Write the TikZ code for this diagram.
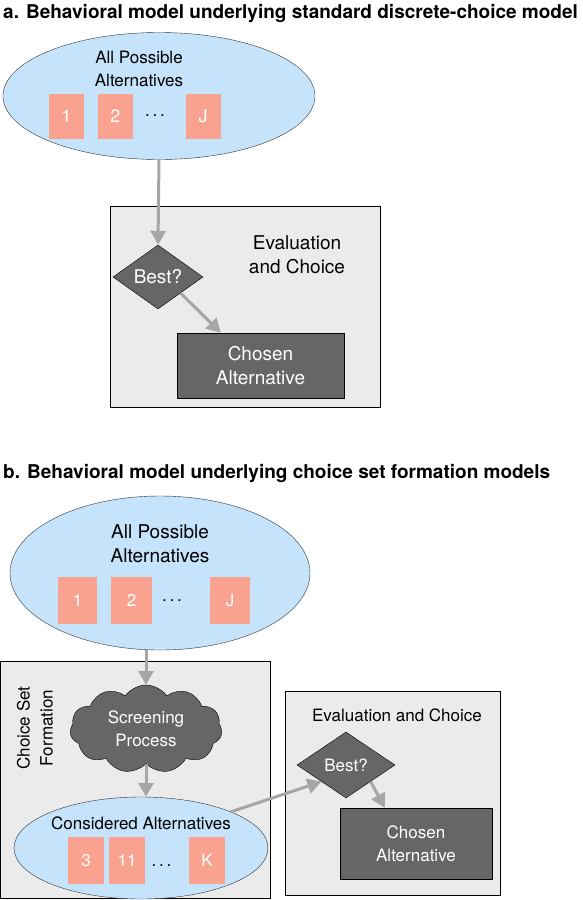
\documentclass[tikz,border=0pt]{standalone}
\usepackage{fontspec}
\setmainfont{TeX Gyre Heros}
\usetikzlibrary{arrows.meta, shapes.geometric, shapes.symbols}
\definecolor{poolblue}{HTML}{C5E3FB}
\definecolor{altsalmon}{HTML}{F9A28F}
\definecolor{panelgray}{HTML}{EBEBEB}
\definecolor{chosengray}{HTML}{666666}
\definecolor{flowgray}{HTML}{A6A6A6}
\tikzset{txt/.style={font=\fontsize{17}{23}\selectfont, align=center, inner sep=0pt}, bigtxt/.style={txt, font=\fontsize{19}{24}\selectfont}, heading/.style={font=\bfseries\fontsize{19}{22}\selectfont, anchor=west, inner sep=0pt}, pool/.style={ellipse, draw=black!80, fill=poolblue}, alt/.style={txt, fill=altsalmon, text=white}, panel/.style={draw, fill=panelgray}, decide/.style={diamond, draw, fill=chosengray, text=white, txt}, chosen/.style={rectangle, draw, fill=chosengray, text=white, txt}, screen/.style={cloud, cloud puffs=11, cloud puff arc=110, aspect=1.8, draw, fill=chosengray, text=white, txt}, flow/.style={-{Triangle[length=14pt,width=15pt]}, line width=3pt, draw=flowgray}}

\begin{document}
\begin{tikzpicture}[x=1pt, y=-1pt]
    \useasboundingbox (0,0) rectangle (583,900);
    % panel a
    \node[heading] (titleA) at (3,14) {a. Behavioral model underlying standard discrete-choice model};
    \node[pool, minimum width=312, minimum height=127] (poolA) at (159,96) {};
    \node[txt] (poolAtxt) at (139,69) {All Possible\\Alternatives};
    \node[alt, minimum width=35, minimum height=45, font=\fontsize{18}{23}\selectfont] (a1) at (66.5,116.5) {1};
    \node[alt, minimum width=35, minimum height=45, font=\fontsize{18}{23}\selectfont] (a2) at (115.5,116.5) {2};
    \node[txt] (dotsA) at (155,116) {.\,.\,.};
    \node[alt, minimum width=35, minimum height=45, font=\fontsize{18}{23}\selectfont] (aJ) at (203,116.5) {J};
    \node[panel, minimum width=270, minimum height=201] (evalA) at (245,306.5) {};
    \node[bigtxt] (evalAtxt) at (297,255) {Evaluation\\and Choice};
    \node[decide, bigtxt, minimum width=90, minimum height=64] (bestA) at (158,277) {Best?};
    \node[chosen, bigtxt, minimum width=167, minimum height=65] (choA) at (260.5,365.5) {Chosen\\Alternative};
    \draw[flow] (poolA.south) -- (bestA.north);
    \draw[flow] (bestA.south east) -- ([xshift=44pt]choA.north west);
    % panel b
    \node[heading] (titleB) at (3,473) {b. Behavioral model underlying choice set formation models};
    \node[pool, minimum width=300, minimum height=154] (poolB) at (160,573) {};
    \node[bigtxt] (poolBtxt) at (160,544) {All Possible\\Alternatives};
    \node[alt, minimum width=39, minimum height=47] (b1) at (77.5,600.5) {1};
    \node[alt, minimum width=41, minimum height=47] (b2) at (131.5,600.5) {2};
    \node[txt] (dotsB) at (172,601) {.\,.\,.};
    \node[alt, minimum width=40, minimum height=47] (bJ) at (230,600.5) {J};
    \node[panel, minimum width=270, minimum height=237] (formB) at (135,779.5) {};
    \node[txt, rotate=90] (formBtxt) at (35,728) {Choice Set\\Formation};
    \node[screen, minimum width=152, minimum height=88] (screenB) at (146,729) {Screening\\Process};
    \node[pool, minimum width=254, minimum height=102] (consB) at (141,848) {};
    \node[txt] (consBtxt) at (141,823) {Considered Alternatives};
    \node[alt, minimum width=36, minimum height=47] (b3) at (86,860.5) {3};
    \node[alt, minimum width=36, minimum height=47] (b11) at (127,860.5) {11};
    \node[txt] (dotsC) at (161.5,866) {.\,.\,.};
    \node[alt, minimum width=36, minimum height=47] (bK) at (207,860.5) {K};
    \node[panel, minimum width=215, minimum height=204] (evalB) at (392.5,793) {};
    \node[txt] (evalBtxt) at (397,715) {Evaluation and Choice};
    \node[decide, minimum width=98, minimum height=66] (bestB) at (346,765) {Best?};
    \node[chosen, minimum width=152, minimum height=71] (choB) at (416,843.5) {Chosen\\Alternative};
    \draw[flow] (poolB.south -| screenB.north) -- (screenB.north);
    \draw[flow] (screenB.south) -- (screenB.south |- consB.north);
    \draw[flow] (consB.north east) -- (bestB.south west);
    \draw[flow] (bestB.south east) -- ([xshift=45pt]choB.north west);
\end{tikzpicture}
\end{document}
